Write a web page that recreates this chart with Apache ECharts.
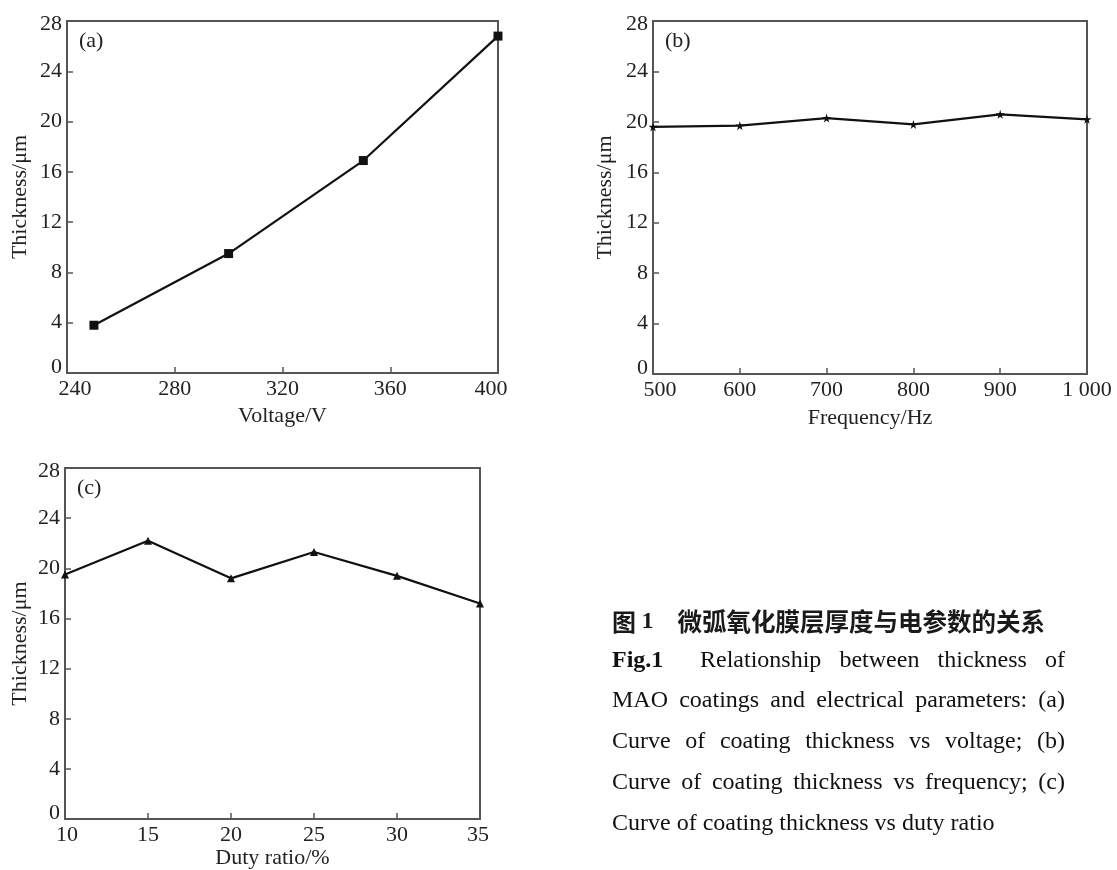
<!DOCTYPE html>
<html>
<head>
<meta charset="utf-8">
<script src="https://cdn.jsdelivr.net/npm/echarts@6/dist/echarts.min.js"></script>
<style>html,body{margin:0;padding:0;background:#fff;}#c{width:1117px;height:870px;}</style>
</head>
<body>
<div id="c"></div>
<script>
// ---- data ----
const voltage = [250, 300, 350, 400];
const thickVoltage = [3.8, 9.5, 16.9, 26.8];
const frequency = [500, 600, 700, 800, 900, 1000];
const thickFrequency = [19.6, 19.7, 20.3, 19.8, 20.6, 20.2];
const duty = [10, 15, 20, 25, 30, 35];
const thickDuty = [19.5, 22.2, 19.2, 21.3, 19.4, 17.2];
const yTicks = [0, 4, 8, 12, 16, 20, 24, 28];
const panelTags = ['(a)', '(b)', '(c)'];
const xNames = ['Voltage/V', 'Frequency/Hz', 'Duty ratio/%'];
const yName = 'Thickness/\u03bcm';
const captionCN = ['图 ', '1', '微弧氧化膜层厚度与电参数的关系'];
const captionFig = 'Fig.1';
const captionLines = [
  'Relationship between thickness of',
  'MAO coatings and electrical parameters: (a)',
  'Curve of coating thickness vs voltage; (b)',
  'Curve of coating thickness vs frequency; (c)',
  'Curve of coating thickness vs duty ratio'
];

const SERIF = '"Liberation Serif","Times New Roman",serif';
const AX = '#555';
const INK = '#111';
const LBL = {fontFamily: SERIF, fontSize: 22, color: '#222'};

const grids = [
  {left: 67, top: 21, width: 431, height: 352},
  {left: 653, top: 21, width: 434, height: 353},
  {left: 65, top: 468, width: 415, height: 352}
];

function xAxis(gi, min, max, interval, name, gap, shiftMin, shiftMax, fmt) {
  return {
    type: 'value', gridIndex: gi, min: min, max: max, interval: interval,
    name: name, nameLocation: 'middle', nameGap: gap,
    nameTextStyle: {fontFamily: SERIF, fontSize: 22, color: '#222'},
    axisLine: {lineStyle: {color: AX, width: 2}},
    axisTick: {inside: true, length: 6, lineStyle: {color: AX, width: 1.5}},
    axisLabel: Object.assign({}, LBL, {margin: 5,
      formatter: v => {
        const s = fmt ? fmt(v) : String(v);
        if (v === min && shiftMin) return '{lo|' + s + '}';
        if (v === max && shiftMax) return '{hi|' + s + '}';
        return s;
      },
      rich: {
        lo: Object.assign({}, LBL, {padding: [0, 0, 0, shiftMin * 2]}),
        hi: Object.assign({}, LBL, {padding: [0, shiftMax * 2, 0, 0]})
      }
    }),
    splitLine: {show: false}
  };
}
function yAxis(gi, gap) {
  const lo = yTicks[0], hi = yTicks[yTicks.length - 1];
  return {
    type: 'value', gridIndex: gi, min: lo, max: hi,
    interval: yTicks[1] - yTicks[0],
    name: yName, nameLocation: 'middle', nameGap: gap, nameRotate: 90,
    nameTextStyle: {fontFamily: SERIF, fontSize: 22, color: '#222'},
    axisLine: {lineStyle: {color: AX, width: 2}},
    axisTick: {inside: true, length: 6, lineStyle: {color: AX, width: 1.5}},
    axisLabel: Object.assign({}, LBL, {margin: 5,
      formatter: v => v === lo ? '{lo|' + v + '}' : v === hi ? '{hi|' + v + '}' : String(v),
      rich: {
        lo: Object.assign({}, LBL, {padding: [0, 0, 11, 0]}),
        hi: Object.assign({}, LBL, {padding: [6, 0, 0, 0]})
      }
    }),
    splitLine: {show: false}
  };
}
function zip(a, b) { return a.map((v, i) => [v, b[i]]); }
function line(gi, data, symbol, size) {
  return {
    type: 'line', xAxisIndex: gi, yAxisIndex: gi, data: data,
    symbol: symbol, symbolSize: size, showSymbol: true,
    lineStyle: {color: INK, width: 2.2}, itemStyle: {color: INK},
    animation: false, z: 5
  };
}
const STAR = 'path://M50,0 L61,35 L98,35 L68,57 L79,91 L50,70 L21,91 L32,57 L2,35 L39,35 Z';

// ---- caption layout (justified) ----
const ctx = document.createElement('canvas').getContext('2d');
function tw(t, font) { ctx.font = font; return ctx.measureText(t).width; }
const CAP_L = 612, CAP_R = 1065, CAP_FS = 24;
const capFont = CAP_FS + 'px ' + SERIF;
const graphics = [];
panelTags.forEach((t, i) => {
  graphics.push({type: 'text', x: grids[i].left + 12, y: grids[i].top + 20,
    style: {text: t, fontFamily: SERIF, fontSize: 22, fill: '#222', verticalAlign: 'middle'}});
});
graphics.push({type: 'text', x: CAP_L, y: 622, style: {
  text: '{a|' + captionCN[0] + '}{b|' + captionCN[1] + '}{c|' + captionCN[2] + '}',
  verticalAlign: 'middle',
  rich: {
    a: {fontFamily: '"Noto Sans CJK SC"', fontWeight: 'bold', fontSize: 24, fill: '#1a1a1a'},
    b: {fontFamily: SERIF, fontWeight: 'bold', fontSize: 24, fill: '#1a1a1a', padding: [0, 24, 0, 0]},
    c: {fontFamily: '"Noto Sans CJK SC"', fontWeight: 'bold', fontSize: 24.5, fill: '#1a1a1a'}
  }
}});
const lineY = [661, 701, 742, 783, 824];
graphics.push({type: 'text', x: CAP_L, y: lineY[0], style: {text: captionFig, fontFamily: SERIF, fontWeight: 'bold', fontSize: CAP_FS, fill: '#111', verticalAlign: 'middle'}});
captionLines.forEach((ln, li) => {
  const words = ln.split(' ');
  const start = li === 0 ? 700 : CAP_L;
  const last = li === captionLines.length - 1;
  const widths = words.map(w => tw(w, capFont));
  const total = widths.reduce((a, b) => a + b, 0);
  const gapW = last ? tw(' ', capFont) : (CAP_R - start - total) / (words.length - 1);
  let x = start;
  words.forEach((w, i) => {
    graphics.push({type: 'text', x: x, y: lineY[li], style: {text: w, fontFamily: SERIF, fontSize: CAP_FS, fill: '#111', verticalAlign: 'middle'}});
    x += widths[i] + gapW;
  });
});

const chart = echarts.init(document.getElementById('c'), null, {renderer: 'canvas'});
chart.setOption({
  backgroundColor: '#fff',
  animation: false,
  grid: grids.map(g => Object.assign({show: true, borderColor: AX, borderWidth: 2, backgroundColor: 'transparent'}, g)),
  xAxis: [
    xAxis(0, 240, 400, 40, xNames[0], 32, 8, 7),
    xAxis(1, 500, 1000, 100, xNames[1], 33, 7, 0, v => v >= 1000 ? String(v).replace(/(\d)(\d{3})$/, '$1 $2') : String(v)),
    xAxis(2, 10, 35, 5, xNames[2], 27, 2, 2)
  ],
  yAxis: [yAxis(0, 36), yAxis(1, 37), yAxis(2, 34)],
  series: [
    line(0, zip(voltage, thickVoltage), 'rect', 9),
    line(1, zip(frequency, thickFrequency), STAR, 9),
    line(2, zip(duty, thickDuty), 'triangle', 8)
  ],
  graphic: graphics
});
</script>
</body>
</html>
